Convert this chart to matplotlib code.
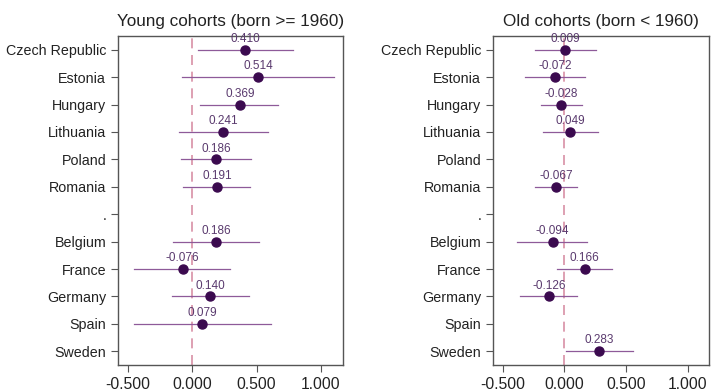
""" Coefficient plot for young and old cohorts by country """

import matplotlib.pyplot as plt
import matplotlib as mpl
import numpy as np

mpl.rcParams.update({'font.family': ['Liberation Sans', 'DejaVu Sans'],
                     'font.size': 10})

countries = ['Czech Republic', 'Estonia', 'Hungary', 'Lithuania', 'Poland',
             'Romania', '.', 'Belgium', 'France', 'Germany', 'Spain', 'Sweden']

# Young cohorts (born >= 1960); None = no estimate
young_est = [0.410, 0.514, 0.369, 0.241, 0.186, 0.191, None,
             0.186, -0.076, 0.140, 0.079, None]
young_lo = [0.047, -0.078, 0.062, -0.10, -0.09, -0.07, None,
            -0.15, -0.45, -0.155, -0.45, None]
young_hi = [0.78, 1.10, 0.67, 0.585, 0.46, 0.45, None,
            0.52, 0.295, 0.44, 0.61, None]

# Old cohorts (born < 1960)
old_est = [0.009, -0.072, -0.028, 0.049, None, -0.067, None,
           -0.094, 0.166, -0.126, None, 0.283]
old_lo = [-0.24, -0.32, -0.19, -0.17, None, -0.24, None,
          -0.38, -0.06, -0.36, None, 0.01]
old_hi = [0.26, 0.17, 0.14, 0.27, None, 0.10, None,
          0.185, 0.39, 0.10, None, 0.56]

x_ticks = [-0.5, 0.0, 0.5, 1.0]

dot_col = '#3b0a4f'
ci_col = '#8e5a99'
ref_col = '#d890a5'
txt_col = '#5a3a6e'
frame_col = '#555555'


def draw_panel(ax, title, est, lo, hi):
    """ Draw one coefficient panel """
    ypos = np.arange(len(countries))
    ax.axvline(0, color=ref_col, lw=1.2, dashes=(6, 4), zorder=1)
    for y, e, l, h in zip(ypos, est, lo, hi):
        if e is None:
            continue
        ax.plot([l, h], [y, y], color=ci_col, lw=0.9, zorder=2)
        ax.plot(e, y, 'o', color=dot_col, ms=6.5, zorder=3)
        ax.annotate(f'{e:.3f}', (e, y), xytext=(0, 3.5),
                    textcoords='offset points', ha='center', va='bottom',
                    fontsize=8.5, color=txt_col, zorder=4)
    ax.set_yticks(ypos)
    ax.set_yticklabels(countries, fontsize=10.3)
    ax.set_ylim(len(countries) - 0.5, -0.5)
    ax.set_xlim(-0.578, 1.172)
    ax.set_xticks(x_ticks)
    ax.set_xticklabels([f'{t:.3f}' for t in x_ticks], fontsize=11.3)
    ax.tick_params(direction='out', length=5, color=frame_col,
                   labelcolor='#222222')
    for sp in ax.spines.values():
        sp.set_color(frame_col)
        sp.set_linewidth(1.0)
    ax.set_title(title, fontsize=12.3, pad=7, color='#222222')


fig = plt.figure(figsize=(7.11, 3.92), dpi=100)
ax1 = fig.add_axes([118 / 711, 27 / 392, 225 / 711, 329 / 392])
ax2 = fig.add_axes([493 / 711, 27 / 392, 216 / 711, 329 / 392])
draw_panel(ax1, 'Young cohorts (born >= 1960)', young_est, young_lo, young_hi)
draw_panel(ax2, 'Old cohorts (born < 1960)', old_est, old_lo, old_hi)
fig.savefig('out.png', dpi=100)
